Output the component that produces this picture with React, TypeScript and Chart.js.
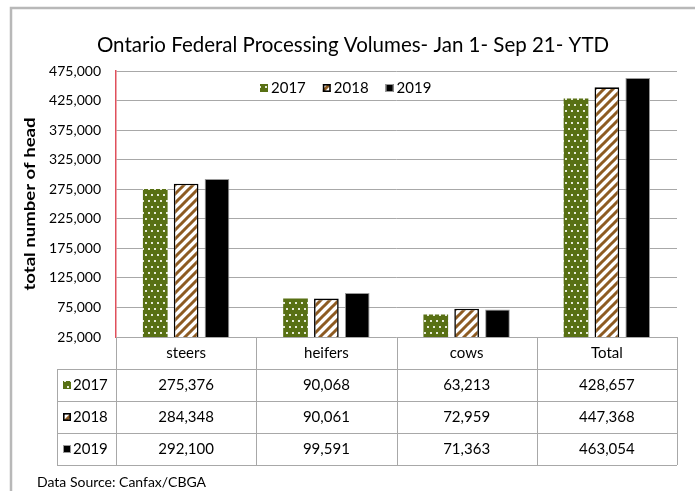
import { useEffect, useRef } from "react";
import { Chart, registerables } from "chart.js";

Chart.register(...registerables);

// ---- data ----
const categories = ["steers", "heifers", "cows", "Total"];
const seriesLabels = ["2017", "2018", "2019"];
const values2017 = [275376, 90068, 63213, 428657];
const values2018 = [284348, 90061, 72959, 447368];
const values2019 = [292100, 99591, 71363, 463054];
const yMin = 25000;
const yMax = 475000;
const yStep = 50000;
const chartTitle = "Ontario Federal Processing Volumes- Jan 1- Sep 21- YTD";
const yAxisTitle = "total number of head";
const sourceNote = "Data Source: Canfax/CBGA";

// ---- styles ----
const FONT = "Lato, 'Open Sans', sans-serif";
const GREEN = "#587014";
const BROWN = "#8d5b22";
const GRID = "#a8a8a8";
const FRAME = "#b8b8b8";

const fmt = (v: number) => v.toLocaleString("en-US");

function makeDots(): CanvasPattern {
  const c = document.createElement("canvas");
  c.width = 6;
  c.height = 12;
  const g = c.getContext("2d")!;
  g.fillStyle = GREEN;
  g.fillRect(0, 0, 6, 12);
  g.fillStyle = "#e6ebd8";
  g.fillRect(1, 2, 2, 2);
  g.fillRect(4, 8, 2, 2);
  return g.createPattern(c, "repeat")!;
}

function makeStripes(): CanvasPattern {
  const s = 9;
  const c = document.createElement("canvas");
  c.width = s;
  c.height = s;
  const g = c.getContext("2d")!;
  g.fillStyle = "#ffffff";
  g.fillRect(0, 0, s, s);
  g.strokeStyle = BROWN;
  g.lineWidth = 3;
  g.beginPath();
  g.moveTo(-1, s + 1);
  g.lineTo(s + 1, -1);
  g.moveTo(-3, 3);
  g.lineTo(3, -3);
  g.moveTo(s - 3, s + 3);
  g.lineTo(s + 3, s - 3);
  g.stroke();
  return g.createPattern(c, "repeat")!;
}

export default function App() {
  const ref = useRef<HTMLCanvasElement>(null);

  useEffect(() => {
    document.body.style.margin = "0";
    const canvas = ref.current!;
    const dots = makeDots();
    const stripes = makeStripes();
    const fills: (string | CanvasPattern)[] = [dots, stripes, "#000000"];
    const seriesValues = [values2017, values2018, values2019];

    const drawSwatch = (g: CanvasRenderingContext2D, i: number, x: number, y: number, s: number) => {
      g.save();
      g.fillStyle = fills[i];
      g.fillRect(x, y, s, s);
      if (i === 1) {
        g.strokeStyle = "#000";
        g.lineWidth = 1.6;
        g.strokeRect(x + 0.8, y + 0.8, s - 1.6, s - 1.6);
      } else if (i === 2) {
        g.strokeStyle = "#999";
        g.lineWidth = 1;
        g.strokeRect(x + 0.5, y + 0.5, s - 1, s - 1);
      }
      g.restore();
    };

    const extras = {
      id: "extras",
      beforeDraw(chart: any) {
        const g: CanvasRenderingContext2D = chart.ctx;
        g.save();
        g.fillStyle = "#fff";
        g.fillRect(0, 0, chart.width, chart.height);
        g.strokeStyle = FRAME;
        g.lineWidth = 2.5;
        g.beginPath();
        g.moveTo(11, chart.height);
        g.lineTo(11, 8);
        g.lineTo(chart.width, 8);
        g.stroke();
        g.restore();
      },
      afterDraw(chart: any) {
        const g: CanvasRenderingContext2D = chart.ctx;
        const area = chart.chartArea;
        const xs = chart.scales.x;
        const colW = area.width / categories.length;
        g.save();
        // title
        g.fillStyle = "#000";
        g.font = `20.5px ${FONT}`;
        g.textAlign = "center";
        g.textBaseline = "middle";
        g.fillText(chartTitle, 353, 45);

        // y-axis title (rotated)
        g.save();
        g.font = `bold 15px ${FONT}`;
        const tw = g.measureText(yAxisTitle).width;
        g.translate(30, (area.top + area.bottom) / 2);
        g.rotate(-Math.PI / 2);
        g.scale(173 / tw, 1);
        g.fillText(yAxisTitle, 0, 0);
        g.restore();

        // legend inside plot
        g.font = `15px ${FONT}`;
        g.textAlign = "left";
        let lx = area.left + 144;
        const ly = 88;
        seriesLabels.forEach((lab, i) => {
          drawSwatch(g, i, lx, ly - 4, 8);
          g.fillStyle = "#000";
          g.fillText(lab, lx + 11, ly);
          lx += 11 + g.measureText(lab).width + 17;
        });

        // data table
        const rowH = 32;
        const top = area.bottom;
        const labelLeft = area.left - 59;
        const bottom = top + rowH * 4;
        g.strokeStyle = GRID;
        g.lineWidth = 1;
        g.beginPath();
        for (let i = 0; i <= categories.length; i++) {
          const x = Math.round(area.left + colW * i) + 0.5;
          g.moveTo(x, top);
          g.lineTo(x, bottom);
        }
        for (let r = 1; r <= 4; r++) {
          const y = Math.round(top + rowH * r) + 0.5;
          g.moveTo(labelLeft, y);
          g.lineTo(area.right, y);
        }
        g.moveTo(labelLeft + 0.5, top + rowH);
        g.lineTo(labelLeft + 0.5, bottom);
        g.stroke();

        g.fillStyle = "#000";
        g.font = `15px ${FONT}`;
        g.textAlign = "center";
        categories.forEach((c, i) => {
          g.fillText(c, xs.getPixelForValue(i), top + rowH / 2);
        });
        seriesLabels.forEach((lab, r) => {
          const cy = top + rowH * (r + 1) + rowH / 2;
          drawSwatch(g, r, labelLeft + 6, cy - 4, 8);
          g.fillStyle = "#000";
          g.textAlign = "left";
          g.fillText(lab, labelLeft + 16, cy);
          g.textAlign = "center";
          seriesValues[r].forEach((v, i) => {
            g.fillText(fmt(v), xs.getPixelForValue(i), cy);
          });
        });

        // source note
        g.textAlign = "left";
        g.font = `14px ${FONT}`;
        g.fillText(sourceNote, 37, 482);
        g.restore();
      },
    };

    const chart = new Chart(canvas, {
      type: "bar",
      data: {
        labels: categories,
        datasets: [
          {
            label: seriesLabels[0],
            data: values2017,
            backgroundColor: dots,
            borderWidth: 0,
          },
          {
            label: seriesLabels[1],
            data: values2018,
            backgroundColor: stripes,
            borderColor: "#000",
            borderWidth: 1.6,
            borderSkipped: false,
          },
          {
            label: seriesLabels[2],
            data: values2019,
            backgroundColor: "#000",
            borderColor: "#9a9a9a",
            borderWidth: 1,
          },
        ],
      },
      options: {
        responsive: false,
        animation: false,
        devicePixelRatio: 1,
        categoryPercentage: 0.66,
        barPercentage: 0.8,
        layout: { padding: { top: 71, right: 18, bottom: 154, left: 0 } },
        plugins: {
          legend: { display: false },
          title: { display: false },
          tooltip: { enabled: false },
        },
        scales: {
          x: { display: false },
          y: {
            min: yMin,
            max: yMax,
            ticks: {
              stepSize: yStep,
              callback: (v: any) => fmt(Number(v)),
              font: { family: FONT, size: 14 },
              color: "#000",
              padding: 15,
            },
            grid: { color: GRID, drawTicks: false, lineWidth: 1 },
            border: { color: "#e0505c", width: 1.5 },
            title: { display: false },
            afterFit: (s: any) => {
              s.width = 116;
            },
          },
        },
      },
      plugins: [extras],
    } as any);

    return () => chart.destroy();
  }, []);

  return (
    <div style={{ width: 695, height: 491, background: "#fff" }}>
      <canvas ref={ref} width={695} height={491} style={{ display: "block", width: 695, height: 491 }} />
    </div>
  );
}
